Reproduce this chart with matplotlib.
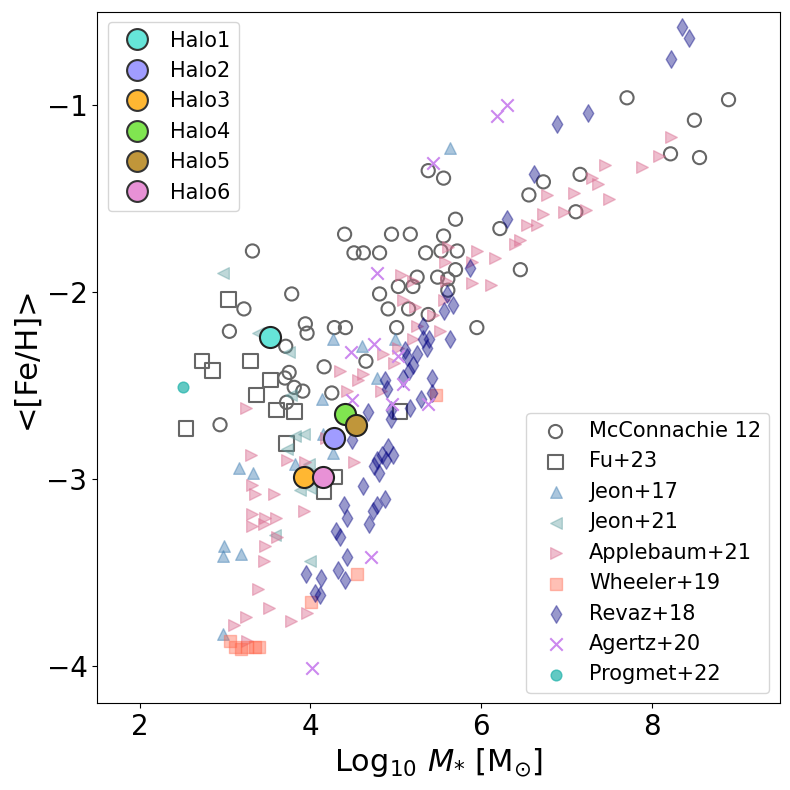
import numpy as np
import matplotlib.pyplot as plt
from matplotlib.lines import Line2D

# === Observational / simulation compilations (log10 M*, <[Fe/H]>) ===
mcc_m = [3.32, 3.78, 3.22, 3.05, 3.94, 3.96, 3.71, 3.75, 3.70, 3.81, 3.91, 3.72, 2.94,
         4.16, 4.25, 4.28, 4.41, 4.65, 4.81, 4.91, 5.15, 5.38, 5.01, 5.03, 5.20, 5.25,
         5.49, 5.61, 5.61, 5.70, 4.51, 4.62, 4.81, 5.35, 5.53, 5.72, 4.40, 4.95, 5.17,
         5.56, 5.70, 6.22, 6.46, 5.95, 5.38, 5.56, 6.56, 6.73, 7.16, 7.11, 7.71, 8.90,
         8.50, 8.22, 8.56]
mcc_feh = [-1.78, -2.01, -2.09, -2.21, -2.17, -2.22, -2.29, -2.43, -2.46, -2.51, -2.53,
           -2.59, -2.71, -2.40, -2.54, -2.19, -2.19, -2.37, -2.01, -2.09, -2.09, -2.12,
           -2.19, -1.97, -1.97, -1.92, -1.92, -1.93, -1.99, -1.88, -1.79, -1.79, -1.79,
           -1.79, -1.78, -1.78, -1.69, -1.69, -1.69, -1.70, -1.61, -1.66, -1.88, -2.19,
           -1.35, -1.39, -1.48, -1.41, -1.37, -1.57, -0.96, -0.97, -1.08, -1.26, -1.28]

fu_m = [3.04, 2.73, 2.85, 3.30, 3.53, 3.37, 3.60, 3.81, 2.54, 3.72, 4.29, 4.16, 5.05]
fu_feh = [-2.04, -2.37, -2.42, -2.37, -2.47, -2.55, -2.63, -2.64, -2.73, -2.81, -2.99, -3.07, -2.64]

jeon17_m = [5.64, 4.60, 4.26, 4.99, 4.78, 4.13, 4.26, 3.16, 3.33, 3.82, 2.99, 2.97, 3.19, 2.98, 4.15]
jeon17_feh = [-1.23, -2.29, -2.25, -2.25, -2.46, -2.57, -2.86, -2.94, -2.97, -2.92, -3.36,
              -3.41, -3.40, -3.83, -2.76]

jeon21_m = [2.97, 3.38, 3.75, 3.77, 3.92, 3.82, 3.73, 3.98, 3.88, 3.99, 3.59, 3.99]
jeon21_feh = [-1.90, -2.22, -2.32, -2.55, -2.76, -2.77, -2.84, -2.92, -3.06, -3.05, -3.30, -3.44]

app_m = [8.23, 8.09, 7.89, 7.45, 7.30, 7.37, 7.50, 7.09, 6.77, 6.73, 6.97, 7.23, 6.65, 6.54,
         6.46, 6.40, 5.95, 6.16, 5.89, 5.89, 6.12, 5.58, 5.61, 5.06, 5.20, 5.59, 5.08, 5.23,
         5.57, 5.44, 5.25, 5.52, 5.20, 5.03, 4.85, 4.98, 4.35, 4.62, 4.56, 4.83, 4.43, 4.18,
         4.51, 3.94, 3.93, 3.96, 3.24, 3.30, 3.73, 3.31, 3.35, 3.57, 3.32, 3.47, 3.60, 3.31,
         3.46, 3.61, 3.47, 3.46, 3.39, 3.51, 3.24, 3.10, 3.77, 3.26]
app_feh = [-1.17, -1.27, -1.33, -1.32, -1.39, -1.42, -1.50, -1.47, -1.48, -1.58, -1.57, -1.56,
           -1.64, -1.64, -1.72, -1.74, -1.78, -1.82, -1.84, -1.95, -1.96, -1.84, -1.76, -1.91,
           -1.94, -1.94, -2.04, -2.08, -2.04, -2.12, -2.18, -2.21, -2.25, -2.30, -2.33, -2.38,
           -2.42, -2.44, -2.47, -2.53, -2.53, -2.78, -2.91, -2.91, -3.17, -3.72, -2.62, -2.87,
           -2.90, -3.03, -3.08, -3.08, -3.19, -3.21, -3.21, -3.25, -3.24, -3.31, -3.36, -3.44,
           -3.59, -3.69, -3.74, -3.78, -3.76, -3.87]

wheeler_m = [3.06, 3.12, 3.19, 3.26, 3.35, 3.40, 4.01, 4.55, 5.47]
wheeler_feh = [-3.87, -3.90, -3.91, -3.90, -3.90, -3.90, -3.66, -3.51, -2.55]

revaz_m = [8.36, 8.44, 8.23, 7.25, 6.89, 6.62, 6.30, 5.87, 5.60, 5.67, 5.56, 5.63, 5.32, 5.32,
           5.39, 5.36, 5.11, 5.25, 5.13, 5.20, 5.15, 5.08, 5.42, 4.87, 4.90, 5.29, 5.42, 5.17,
           4.94, 4.67, 4.94, 4.49, 4.91, 4.84, 4.97, 4.89, 4.78, 4.74, 4.80, 4.61, 4.87, 4.78,
           4.73, 4.69, 4.39, 4.43, 4.30, 4.35, 4.43, 4.32, 4.41, 3.95, 4.12, 4.05, 4.11]
revaz_feh = [-0.58, -0.64, -0.75, -1.04, -1.10, -1.37, -1.61, -1.87, -2.01, -2.07, -2.10, -2.25,
             -2.18, -2.25, -2.25, -2.30, -2.31, -2.33, -2.35, -2.39, -2.42, -2.46, -2.46, -2.47,
             -2.52, -2.57, -2.54, -2.62, -2.63, -2.64, -2.68, -2.79, -2.83, -2.87, -2.87, -2.90,
             -2.90, -2.93, -2.97, -3.04, -3.11, -3.14, -3.17, -3.24, -3.14, -3.21, -3.28, -3.31,
             -3.42, -3.49, -3.54, -3.51, -3.53, -3.61, -3.62]

agertz_m = [6.30, 6.19, 5.44, 4.78, 4.48, 4.74, 5.03, 5.08, 4.49, 4.96, 5.38, 4.71, 4.02]
agertz_feh = [-1.00, -1.06, -1.31, -1.90, -2.32, -2.28, -2.34, -2.49, -2.58, -2.60, -2.60, -3.42, -4.01]

progmet_m = [2.51]
progmet_feh = [-2.51]

# === Simulated halos ===
halo_names = ['Halo1', 'Halo2', 'Halo3', 'Halo4', 'Halo5', 'Halo6']
halo_m = [3.52, 4.27, 3.93, 4.40, 4.53, 4.15]
halo_feh = [-2.24, -2.78, -2.99, -2.65, -2.71, -2.99]
halo_colors = ['#66e5d9', '#a09cff', '#ffb732', '#80e550', '#c0963a', '#e891d6']

fig, ax = plt.subplots(figsize=(7.9, 7.9), dpi=100)
fig.subplots_adjust(left=0.123, right=0.987, top=0.985, bottom=0.110)

ax.scatter(mcc_m, mcc_feh, s=90, facecolors='none', edgecolors='#666666', linewidths=1.5,
           label='McConnachie 12')
ax.scatter(fu_m, fu_feh, s=110, marker='s', facecolors='none', edgecolors='#666666',
           linewidths=1.5, label='Fu+23')
ax.scatter(jeon17_m, jeon17_feh, s=70, marker='^', color='steelblue', alpha=0.45, label='Jeon+17')
ax.scatter(jeon21_m, jeon21_feh, s=70, marker='<', color='cadetblue', alpha=0.4, label='Jeon+21')
ax.scatter(app_m, app_feh, s=70, marker='>', color='palevioletred', alpha=0.45, label='Applebaum+21')
ax.scatter(wheeler_m, wheeler_feh, s=70, marker='s', color='tomato', alpha=0.4, label='Wheeler+19')
ax.scatter(revaz_m, revaz_feh, s=80, marker='d', color='navy', alpha=0.4, label='Revaz+18')
ax.scatter(agertz_m, agertz_feh, s=80, marker='x', color='#cc88ee', linewidths=1.5, label='Agertz+20')
ax.scatter(progmet_m, progmet_feh, s=60, color='lightseagreen', alpha=0.7, label='Progmet+22')

leg2 = ax.legend(loc='lower right', fontsize=15, handletextpad=0.6)

halo_handles = []
for name, m, feh, c in zip(halo_names, halo_m, halo_feh, halo_colors):
    ax.scatter(m, feh, s=230, color=c, edgecolors='#222222', linewidths=1.5, zorder=5)
    halo_handles.append(Line2D([], [], marker='o', linestyle='none', markersize=15,
                               markerfacecolor=c, markeredgecolor='#333333',
                               markeredgewidth=1.5, label=name))
leg1 = ax.legend(handles=halo_handles, loc='upper left', fontsize=15, handletextpad=0.6)
ax.add_artist(leg2)

ax.set_xlim(1.5, 9.5)
ax.set_ylim(-4.2, -0.5)
ax.set_xticks([2, 4, 6, 8])
ax.set_yticks([-4, -3, -2, -1])
ax.tick_params(labelsize=20)
ax.set_xlabel(r'Log$_{10}$ $M_{*}$ [M$_{\odot}$]', fontsize=22)
ax.set_ylabel('<[Fe/H]>', fontsize=22)

plt.savefig('out.png')
